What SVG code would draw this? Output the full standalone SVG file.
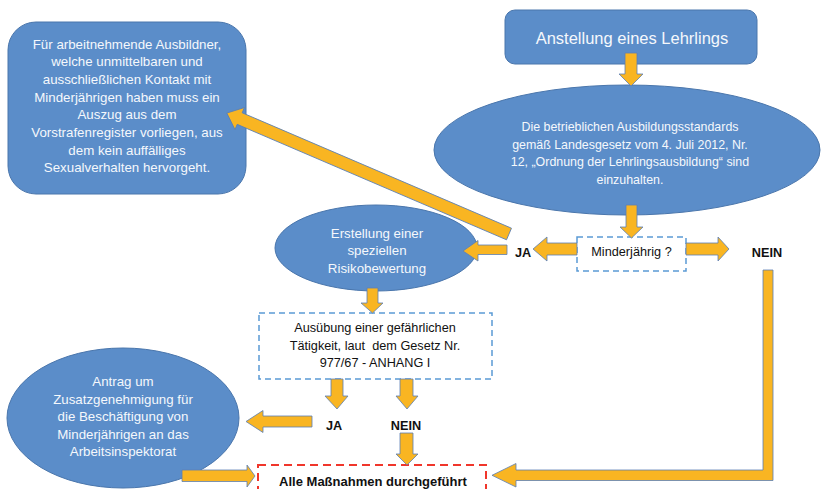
<svg xmlns="http://www.w3.org/2000/svg" width="826" height="489" viewBox="0 0 826 489">
<style>
.blue{fill:#5B8DC9;stroke:#4A76AC;stroke-width:1}
.dash{fill:#fff;stroke:#5B9BD5;stroke-width:1.5;stroke-dasharray:6 4}
.red{fill:#fff;stroke:#F0362B;stroke-width:2;stroke-dasharray:8 5}
.wt{font-family:"Liberation Sans",Arial,sans-serif;font-size:13.3px;fill:#F5F8FC;text-anchor:middle}
.bt{font-family:"Liberation Sans",Arial,sans-serif;font-size:12.7px;fill:#111;text-anchor:middle}
.bb{font-family:"Liberation Sans",Arial,sans-serif;font-size:12.7px;font-weight:bold;fill:#111;text-anchor:middle}
.arr{fill:#F9B522;stroke:#5A7FB5;stroke-width:0.8;stroke-linejoin:miter}
</style>
<rect width="826" height="489" fill="#fff"/>

<g id="node-auszug">
<rect class="blue" x="8" y="22" width="238" height="172" rx="28"/>
<text class="wt" x="127" y="48.5">Für arbeitnehmende Ausbildner,</text>
<text class="wt" x="127" y="66.3">welche unmittelbaren und</text>
<text class="wt" x="127" y="84">ausschließlichen Kontakt mit</text>
<text class="wt" x="127" y="101.5">Minderjährigen haben muss ein</text>
<text class="wt" x="127" y="119">Auszug aus dem</text>
<text class="wt" x="127" y="136.5">Vorstrafenregister vorliegen, aus</text>
<text class="wt" x="127" y="154.5">dem kein auffälliges</text>
<text class="wt" x="127" y="171.5">Sexualverhalten hervorgeht.</text>
</g>

<g id="node-anstellung">
<rect class="blue" x="505" y="10" width="252" height="54" rx="10"/>
<text class="wt" x="632" y="43.5" style="font-size:16.5px">Anstellung eines Lehrlings</text>
</g>

<g id="node-standards">
<ellipse class="blue" cx="627" cy="150" rx="193" ry="65"/>
<text class="wt" x="630" y="131" style="font-size:12.4px">Die betrieblichen Ausbildungsstandards</text>
<text class="wt" x="630" y="148.6" style="font-size:12.4px">gemäß Landesgesetz vom 4. Juli 2012, Nr.</text>
<text class="wt" x="630" y="166.2" style="font-size:12.4px">12, „Ordnung der Lehrlingsausbildung“ sind</text>
<text class="wt" x="630" y="183.8" style="font-size:12.4px">einzuhalten.</text>
</g>

<g id="node-minderjaehrig">
<rect class="dash" x="577" y="237" width="109" height="34"/>
<text class="bt" x="631.5" y="255.5">Minderjährig ?</text>
</g>

<g id="label-ja-top"><text class="bb" x="523" y="256.5">JA</text></g>
<g id="label-nein-top"><text class="bb" x="767" y="256.5">NEIN</text></g>

<g id="node-risiko">
<ellipse class="blue" cx="376" cy="248" rx="101" ry="43"/>
<text class="wt" x="377" y="237.5">Erstellung einer</text>
<text class="wt" x="377" y="255">speziellen</text>
<text class="wt" x="377" y="272.5">Risikobewertung</text>
</g>

<g id="node-taetigkeit">
<rect class="dash" x="259" y="313" width="233" height="66"/>
<text class="bt" x="375" y="332">Ausübung einer gefährlichen</text>
<text class="bt" x="375" y="349.5" style="white-space:pre">Tätigkeit, laut  dem Gesetz Nr.</text>
<text class="bt" x="375" y="367">977/67 - ANHANG I</text>
</g>

<g id="label-ja-bottom"><text class="bb" x="334" y="429.5">JA</text></g>
<g id="label-nein-bottom"><text class="bb" x="406" y="429.5">NEIN</text></g>

<g id="node-antrag">
<ellipse class="blue" cx="123" cy="418" rx="116" ry="70"/>
<text class="wt" x="123" y="386">Antrag um</text>
<text class="wt" x="123" y="403.5">Zusatzgenehmigung für</text>
<text class="wt" x="123" y="421">die Beschäftigung von</text>
<text class="wt" x="123" y="438.5">Minderjährigen an das</text>
<text class="wt" x="123" y="456">Arbeitsinspektorat</text>
</g>

<g id="node-alle">
<rect class="red" x="258" y="465" width="228" height="40"/>
<text class="bb" x="373" y="485.5" style="font-size:13px">Alle Maßnahmen durchgeführt</text>
</g>

<g id="connectors">
<polygon class="arr" points="625,53 637,53 637,74 643,74 631,86 619,74 625,74"/>
<polygon class="arr" points="626,205 637,205 637,227 643,227 631.5,238 620,227 626,227"/>
<polygon class="arr" points="686,243 718,243 718,237 729,249 718,261 718,255 686,255"/>
<polygon class="arr" points="577,243 547,243 547,237 533,249 547,261 547,255 577,255"/>
<polygon class="arr" points="507,245 478,245 478,240.5 463,251 478,261 478,254.5 507,254.5"/>
<polygon class="arr" transform="translate(509,234) rotate(203.2)" points="0,-6.3 293,-6.3 293,-12 307,0 293,12 293,6.3 0,6.3"/>
<polygon class="arr" points="367,288 378,288 378,303 383,303 372.5,313 361,303 367,303"/>
<polygon class="arr" points="331,379 343,379 343,396 348,396 337,409 325,396 331,396"/>
<polygon class="arr" points="400,379 413,379 413,396 418,396 407,409 396,396 400,396"/>
<polygon class="arr" points="312,416 263,416 263,410.5 246,421.5 263,432.5 263,427 312,427"/>
<polygon class="arr" points="400,433 413,433 413,454 418,454 407,465 396,454 400,454"/>
<polygon class="arr" points="182,470 247,470 247,465 255,476 247,487 247,481.5 182,481.5"/>
<polygon class="arr" points="763,270 773,270 773,480.5 516,480.5 516,487 492,475.3 516,463.5 516,470 763,470"/>
</g>
</svg>
